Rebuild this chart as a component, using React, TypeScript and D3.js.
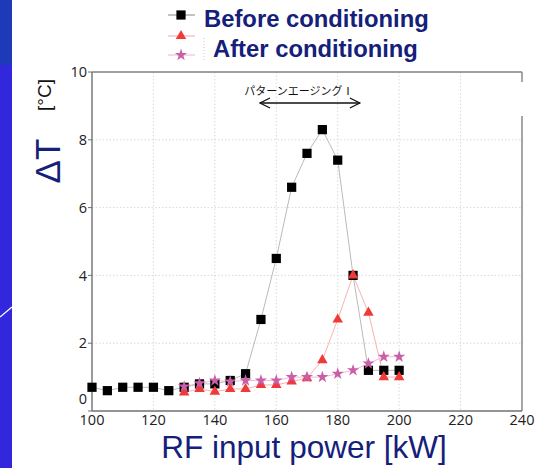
import React from "react";
import * as d3 from "d3";

const powerBefore = [100, 105, 110, 115, 120, 125, 130, 135, 140, 145, 150, 155, 160, 165, 170, 175, 180, 185, 190, 195, 200];
const deltaBefore = [0.7, 0.6, 0.7, 0.7, 0.7, 0.6, 0.7, 0.8, 0.8, 0.9, 1.1, 2.7, 4.5, 6.6, 7.6, 8.3, 7.4, 4.0, 1.2, 1.2, 1.2];
const powerAfter = [130, 135, 140, 145, 150, 155, 160, 165, 170, 175, 180, 185, 190, 195, 200];
const deltaAfterTri = [0.55, 0.65, 0.57, 0.65, 0.65, 0.77, 0.77, 0.87, 0.97, 1.5, 2.7, 4.0, 2.9, 1.0, 1.0];
const deltaAfterStar = [0.72, 0.82, 0.9, 0.87, 0.9, 0.9, 0.9, 1.0, 1.0, 1.0, 1.1, 1.2, 1.4, 1.6, 1.6];
const xTicks = [100, 120, 140, 160, 180, 200, 220, 240];
const yTicks = [0, 2, 4, 6, 8, 10];
const agingRange = [154.7, 187.2];
const agingLabel = "パターンエージングⅠ";
const legendLabels = ["Before conditioning", "After conditioning"];

const W = 553, H = 468;
const L = 92, R = 522, T = 72, B = 411;

export default function App() {
  const x = d3.scaleLinear().domain([100, 240]).range([L, R]);
  const y = d3.scaleLinear().domain([0, 10]).range([B, T]);
  const line = d3.line<[number, number]>().x(d => x(d[0])).y(d => y(d[1]));
  const sq = d3.symbol().type(d3.symbolSquare).size(85)()!;
  const tri = d3.symbol().type(d3.symbolTriangle).size(48)()!;
  const star = d3.symbol().type(d3.symbolStar).size(46)()!;
  const navy = "#14207a";
  const triColor = "#f03a3a";
  const starColor = "#c95fa6";
  const before = powerBefore.map((p, i) => [p, deltaBefore[i]] as [number, number]);
  const afterT = powerAfter.map((p, i) => [p, deltaAfterTri[i]] as [number, number]);
  const afterS = powerAfter.map((p, i) => [p, deltaAfterStar[i]] as [number, number]);
  const ax1 = x(agingRange[0]), ax2 = x(agingRange[1]), ay = 103;

  return (
    <svg width={W} height={H} style={{ position: "absolute", left: 0, top: 0, background: "#fff" }}
      fontFamily="'Liberation Sans', Arial, sans-serif">
      {/* slide strip */}
      <rect x={0} y={0} width={12} height={65} fill="#1f3ab8" />
      <rect x={0} y={65} width={12} height={H - 65} fill="#3227dc" />
      <line x1={0} y1={317} x2={12} y2={307} stroke="#fff" strokeWidth={1.3} />

      {/* grid */}
      {xTicks.filter(t => t > 100 && t < 240).map(t => (
        <line key={"gx" + t} x1={x(t)} x2={x(t)} y1={T} y2={B} stroke="#cfcfcf" strokeWidth={0.8} strokeDasharray="1.5 2" />
      ))}
      {yTicks.filter(t => t > 0 && t < 10).map(t => (
        <line key={"gy" + t} x1={L} x2={R} y1={y(t)} y2={y(t)} stroke="#cfcfcf" strokeWidth={0.8} strokeDasharray="1.5 2" />
      ))}

      {/* frame */}
      <line x1={L} x2={R} y1={T} y2={T} stroke="#808080" strokeWidth={1.4} />
      <line x1={L} x2={R} y1={B} y2={B} stroke="#707070" strokeWidth={1.4} />
      <line x1={L} x2={L} y1={T} y2={B} stroke="#707070" strokeWidth={1.4} />
      <line x1={R} x2={R} y1={T} y2={82} stroke="#808080" strokeWidth={1.4} />
      <line x1={R} x2={R} y1={116} y2={B} stroke="#808080" strokeWidth={1.4} />

      {/* ticks */}
      {yTicks.map(t => (
        <g key={"yt" + t}>
          <line x1={L - 4} x2={L} y1={y(t)} y2={y(t)} stroke="#707070" strokeWidth={1} />
          <text x={L - 5} y={y(t) - (t === 0 ? 12 : 0)} dy="0.36em" textAnchor="end" fontSize={14.5} fill="#222"
            fontFamily="'Open Sans', sans-serif">{t}</text>
        </g>
      ))}
      {xTicks.map(t => (
        <text key={"xt" + t} x={x(t)} y={425} textAnchor="middle" fontSize={14.5} fill="#222"
          fontFamily="'Open Sans', sans-serif">{t}</text>
      ))}

      {/* series lines */}
      <path d={line(before)!} fill="none" stroke="#a8a8a8" strokeWidth={0.8} />
      <path d={line(afterT)!} fill="none" stroke="#f6a9a9" strokeWidth={0.9} />
      <path d={line(afterS)!} fill="none" stroke="#f0b3d3" strokeWidth={0.9} />

      {/* markers */}
      {before.map((d, i) => (
        <path key={"b" + i} d={sq} transform={`translate(${x(d[0])},${y(d[1])})`} fill="#000" />
      ))}
      {afterT.map((d, i) => (
        <path key={"t" + i} d={tri} transform={`translate(${x(d[0])},${y(d[1])})`} fill={triColor} />
      ))}
      {afterS.map((d, i) => (
        <path key={"s" + i} d={star} transform={`translate(${x(d[0])},${y(d[1])})`} fill={starColor} />
      ))}

      {/* annotation */}
      <text x={(ax1 + ax2) / 2 - 11} y={95} textAnchor="middle" fontSize={11} fill="#111"
        fontFamily="'Noto Sans CJK JP', sans-serif">{agingLabel}</text>
      <line x1={ax1} x2={ax2} y1={ay} y2={ay} stroke="#111" strokeWidth={1.3} />
      <path d={`M${ax1 + 10},${ay - 5} L${ax1},${ay} L${ax1 + 10},${ay + 5}`} fill="none" stroke="#111" strokeWidth={1.3} />
      <path d={`M${ax2 - 10},${ay - 5} L${ax2},${ay} L${ax2 - 10},${ay + 5}`} fill="none" stroke="#111" strokeWidth={1.3} />

      {/* axis labels */}
      <text x={304} y={458} textAnchor="middle" fontSize={31.5} fill={navy}>RF input power [kW]</text>
      <text transform="translate(60,161) rotate(-90)" textAnchor="middle" fontSize={35} fill={navy}>ΔT</text>
      <text transform="translate(51,95) rotate(-90)" textAnchor="middle" fontSize={19} fill="#111">[°C]</text>

      {/* legend */}
      <line x1={168} x2={195} y1={15} y2={15} stroke="#888" strokeWidth={1} />
      <path d={sq} transform="translate(181,15)" fill="#000" />
      <line x1={168} x2={195} y1={36} y2={36} stroke="#f6a9a9" strokeWidth={1} />
      <path d={tri} transform="translate(181,36)" fill={triColor} />
      <line x1={168} x2={195} y1={55} y2={55} stroke="#f0b3d3" strokeWidth={1} />
      <path d={star} transform="translate(181,55)" fill={starColor} />
      <line x1={204} x2={204} y1={38} y2={62} stroke="#bbb" strokeWidth={0.8} strokeDasharray="1 2" />
      <text x={204} y={27} fontSize={23.8} fontWeight="bold" fill={navy}>{legendLabels[0]}</text>
      <text x={213} y={57} fontSize={23.8} fontWeight="bold" fill={navy}>{legendLabels[1]}</text>
    </svg>
  );
}
